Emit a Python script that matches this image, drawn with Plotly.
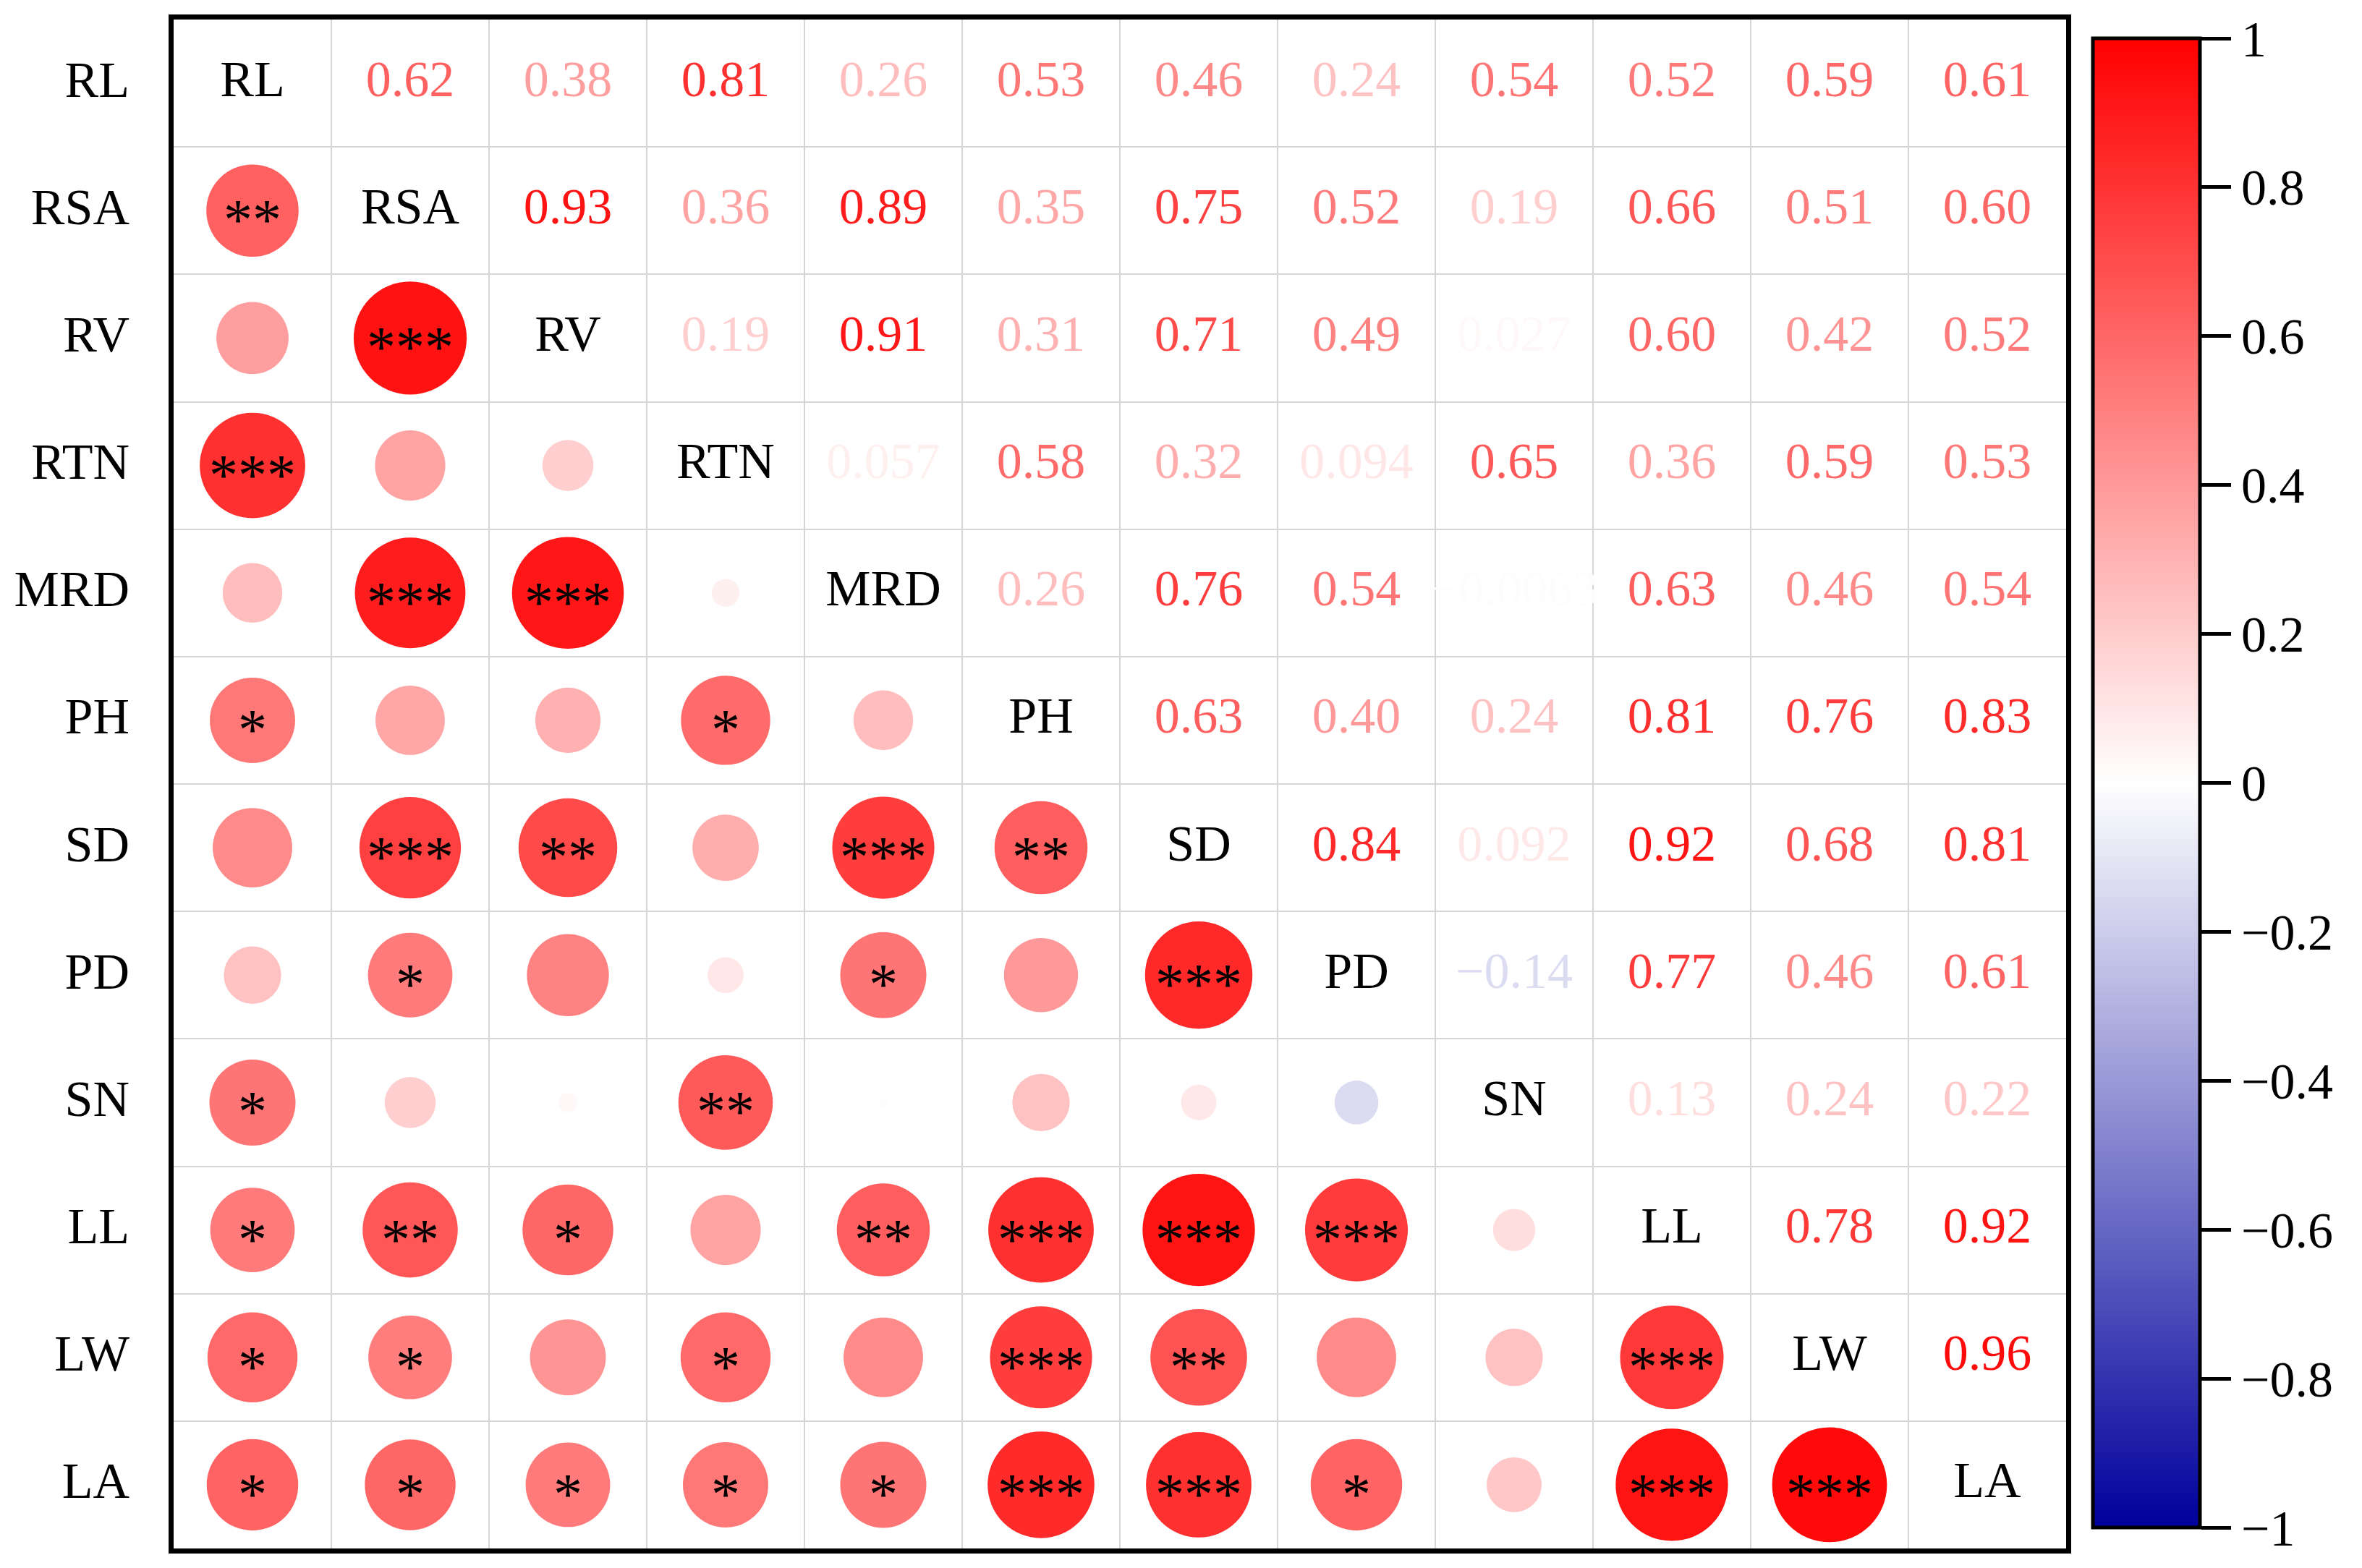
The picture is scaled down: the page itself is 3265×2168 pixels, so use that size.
import numpy as np
import plotly.graph_objects as go
from plotly.colors import sample_colorscale

labels = ["RL", "RSA", "RV", "RTN", "MRD", "PH", "SD", "PD", "SN", "LL", "LW", "LA"]

# upper triangle, one list per row (values to the right of the diagonal)
corr_upper = [
    [0.62, 0.38, 0.81, 0.26, 0.53, 0.46, 0.24, 0.54, 0.52, 0.59, 0.61],
    [0.93, 0.36, 0.89, 0.35, 0.75, 0.52, 0.19, 0.66, 0.51, 0.60],
    [0.19, 0.91, 0.31, 0.71, 0.49, 0.027, 0.60, 0.42, 0.52],
    [0.057, 0.58, 0.32, 0.094, 0.65, 0.36, 0.59, 0.53],
    [0.26, 0.76, 0.54, -0.0063, 0.63, 0.46, 0.54],
    [0.63, 0.40, 0.24, 0.81, 0.76, 0.83],
    [0.84, 0.092, 0.92, 0.68, 0.81],
    [-0.14, 0.77, 0.46, 0.61],
    [0.13, 0.24, 0.22],
    [0.78, 0.92],
    [0.96],
]

# significance marks, lower triangle, one list per row (left of the diagonal)
sig_lower = [
    [],
    ["**"],
    ["", "***"],
    ["***", "", ""],
    ["", "***", "***", ""],
    ["*", "", "", "*", ""],
    ["", "***", "**", "", "***", "**"],
    ["", "*", "", "", "*", "", "***"],
    ["*", "", "", "**", "", "", "", ""],
    ["*", "**", "*", "", "**", "***", "***", "***", ""],
    ["*", "*", "", "*", "", "***", "**", "", "", "***"],
    ["*", "*", "*", "*", "*", "***", "***", "*", "", "***", "***"],
]

cbar_ticks = [-1, -0.8, -0.6, -0.4, -0.2, 0, 0.2, 0.4, 0.6, 0.8, 1]

n = len(labels)
R = np.eye(n)
for i, row in enumerate(corr_upper):
    for k, v in enumerate(row):
        j = i + 1 + k
        R[i, j] = v
        R[j, i] = v

cscale = [[0.0, "#00009C"], [0.5, "#FFFFFF"], [1.0, "#FF0000"]]
FONT = "Liberation Serif"
DMAX = 162


def fmt(v):
    return f"{v:#.2g}".replace("-", "\u2212")


# lower triangle circles
cx, cy, cr, ctxt = [], [], [], []
for i in range(n):
    for j in range(i):
        cx.append(j)
        cy.append(i)
        cr.append(R[i, j])
        ctxt.append(sig_lower[i][j])

# upper triangle numbers
ux, uy, ur = [], [], []
for i in range(n):
    for j in range(i + 1, n):
        ux.append(j)
        uy.append(i)
        ur.append(R[i, j])
ucol = sample_colorscale(cscale, [(v + 1) / 2 for v in ur])

fig = go.Figure()

fig.add_trace(go.Scatter(
    x=cx, y=cy, mode="markers",
    marker=dict(
        size=np.abs(cr), sizemode="area", sizeref=2.0 / DMAX ** 2,
        color=cr, colorscale=cscale, cmin=-1, cmax=1,
        opacity=1, line=dict(width=0),
        showscale=True,
        colorbar=dict(
            x=1.0141, xanchor="left", xpad=0,
            y=0.5007, yanchor="middle", len=0.974, lenmode="fraction", ypad=0,
            thickness=148, outlinewidth=5, outlinecolor="black",
            ticks="outside", ticklen=41, tickwidth=5, tickcolor="black",
            tickvals=cbar_ticks,
            ticktext=[f"{v:g}".replace("-", "\u2212") for v in cbar_ticks],
            tickfont=dict(family=FONT, size=70, color="black"),
        ),
    ),
    hoverinfo="skip", showlegend=False,
))

# significance stars
for x, y, t in zip(cx, cy, ctxt):
    if t:
        fig.add_annotation(x=x, y=y, text=t, showarrow=False, yshift=-13,
                           font=dict(family=FONT, size=80, color="black"))

fig.add_trace(go.Scatter(
    x=ux, y=uy, mode="text", text=[fmt(v) for v in ur],
    textfont=dict(family=FONT, size=70, color=ucol),
    hoverinfo="skip", showlegend=False,
))

fig.add_trace(go.Scatter(
    x=list(range(n)), y=list(range(n)), mode="text", text=labels,
    textfont=dict(family=FONT, size=70, color="black"),
    hoverinfo="skip", showlegend=False,
))

half = [k + 0.5 for k in range(n - 1)]
fig.update_xaxes(
    range=[-0.5, n - 0.5], showgrid=False, zeroline=False, showticklabels=False,
    showline=True, mirror=True, linewidth=7, linecolor="black",
    minor=dict(tickmode="array", tickvals=half, showgrid=True,
               gridcolor="#d6d6d6", gridwidth=2, ticks=""),
)
fig.update_yaxes(
    range=[n - 0.5, -0.5], showgrid=False, zeroline=False,
    tickmode="array", tickvals=list(range(n)), ticktext=labels,
    tickfont=dict(family=FONT, size=70, color="black"),
    ticklabelstandoff=40, ticklabelshift=6,
    showline=True, mirror=True, linewidth=7, linecolor="black",
    minor=dict(tickmode="array", tickvals=half, showgrid=True,
               gridcolor="#d6d6d6", gridwidth=2, ticks=""),
)

# the page body adds an 8px offset, so margins are trimmed to keep the frame in place
fig.update_layout(
    width=3265, height=2168,
    margin=dict(l=220, r=417, t=18, b=35),
    plot_bgcolor="white", paper_bgcolor="white",
    font=dict(family=FONT),
)

fig.write_html("out.html")
